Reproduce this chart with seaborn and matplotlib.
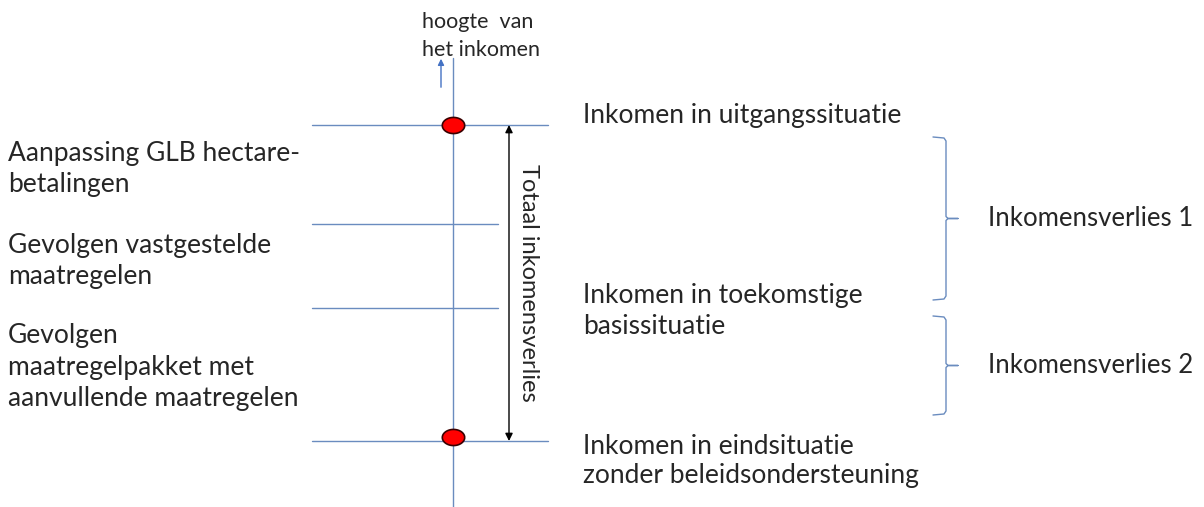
import matplotlib
matplotlib.use("Agg")
from matplotlib import pyplot as plt
from matplotlib.path import Path
import seaborn as sns
import numpy as np
import pandas as pd

# income levels (vertical position of each horizontal line, top = high income)
level_names = ["uitgang", "hectare", "vastgesteld", "eind"]
level_y = [125, 224, 308, 441]
level_x0 = [312, 312, 312, 312]
level_x1 = [548, 498, 498, 548]

# points on the axis (start and end income)
dot_x = [453, 453]
dot_y = [125, 437]

left_labels = ["Aanpassing GLB hectare-\nbetalingen",
               "Gevolgen vastgestelde\nmaatregelen",
               "Gevolgen\nmaatregelpakket met\naanvullende maatregelen"]
left_y = [169, 261, 367]

right_labels = ["Inkomen in uitgangssituatie",
                "Inkomen in toekomstige\nbasissituatie",
                "Inkomen in eindsituatie\nzonder beleidsondersteuning"]
right_y = [115, 311, 461]

brace_top = [137, 316]
brace_bottom = [300, 415]
brace_labels = ["Inkomensverlies 1", "Inkomensverlies 2"]

line_col = "#6a8cbf"
font = ["Lato", "DejaVu Sans"]

sns.set_style("white")
plt.rcParams["font.family"] = font

fig = plt.figure(figsize=(12.04, 5.07), dpi=100)
ax = fig.add_axes([0, 0, 1, 1])
ax.set_xlim(0, 1204)
ax.set_ylim(507, 0)
ax.axis("off")

# vertical income axis
ax.plot([453, 453], [58, 507], color=line_col, lw=1)
ax.annotate("", xy=(441, 56), xytext=(441, 90),
            arrowprops=dict(arrowstyle="-|>", color="#4472c4", lw=1, mutation_scale=9))
ax.text(422, 36, "hoogte  van\nhet inkomen", fontsize=15.5, va="center", ha="left",
        linespacing=1.45)

# horizontal level lines
levels = pd.DataFrame({"name": level_names, "y": level_y, "x0": level_x0, "x1": level_x1})
for _, r in levels.iterrows():
    sns.lineplot(x=[r.x0, r.x1], y=[r.y, r.y], color=line_col, lw=1, ax=ax)

# red ellipses
t = np.linspace(0, 2 * np.pi, 60)
ell = Path(np.column_stack([np.cos(t), 0.72 * np.sin(t)]))
sns.scatterplot(x=dot_x, y=dot_y, marker=ell, s=260, color="#ff0000",
                edgecolor="#3a0000", linewidth=1.2, ax=ax, zorder=5)

# total loss double arrow
ax.annotate("", xy=(509, level_y[0]), xytext=(509, level_y[-1]),
            arrowprops=dict(arrowstyle="<|-|>", color="black", lw=1, mutation_scale=11,
                            shrinkA=0, shrinkB=0))
ax.text(528, (level_y[0] + level_y[-1]) / 2, "Totaal inkomensverlies", rotation=-90,
        fontsize=17, ha="center", va="center")

for lab, y in zip(left_labels, left_y):
    ax.text(8, y, lab, fontsize=19, ha="left", va="center", linespacing=1.32)
for lab, y in zip(right_labels, right_y):
    ax.text(583, y, lab, fontsize=19, ha="left", va="center", linespacing=1.25)

# braces
for top, bot, lab in zip(brace_top, brace_bottom, brace_labels):
    mid = (top + bot) / 2
    xs = [933, 944, 946, 946, 948, 958, 948, 946, 946, 944, 933]
    ys = [top, top + 1, top + 4, mid - 2, mid, mid, mid, mid + 2, bot - 4, bot - 1, bot]
    ax.plot(xs, ys, color=line_col, lw=1)
    ax.text(988, mid, lab, fontsize=18.5, ha="left", va="center")

fig.savefig("out.png", dpi=100)
